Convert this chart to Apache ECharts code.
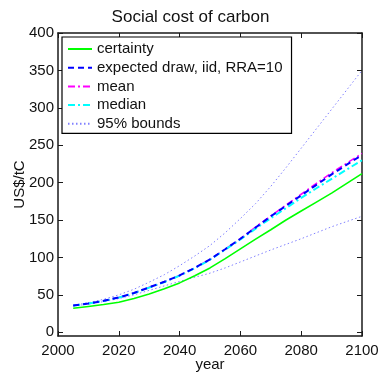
<!DOCTYPE html>
<html>
<head>
<meta charset="utf-8">
<script src="https://cdn.jsdelivr.net/npm/echarts@6/dist/echarts.min.js"></script>
<style>html,body{margin:0;padding:0;background:#fff}#c{width:381px;height:372px}</style>
</head>
<body>
<div id="c"></div>
<script>
var years     = [2005,2010,2015,2020,2025,2030,2035,2040,2045,2050,2055,2060,2065,2070,2075,2080,2085,2090,2095,2100];
var certainty = [32,34.5,37,40,45,51,58,66,75.5,86,98.5,111.5,124.5,137,150,162,174,186,199,212];
var expected  = [35.8,38.5,42,46.5,52.5,60,67.5,76,86,97.5,111,125,140,155,169,183,197,211,224,237];
var meanVals  = [35.8,38.5,42,46.5,52.5,60,67.5,76,86,97.5,111,125,140.5,155.5,170,184.5,199,213,226,239];
var medianVals= [35.6,38.3,41.8,46.3,52.3,59.7,67.2,75.6,85.6,97,110.5,124,138.5,152.5,166,179.5,192.5,205,217.5,230];
var upper     = [36,39.5,44,50,57.5,67,77,89,102,116,133,152,172,195,220,246,272,298,324,350];
var lower     = [35,37.5,41,45,50,56,62,68,73.5,79,86,94,102,110,117.5,125,133,141,148,155];
var xTicks = [2000,2020,2040,2060,2080,2100];
var yTicks = [0,50,100,150,200,250,300,350,400];

function pairs(v){ return years.map(function(y,i){ return [y, v[i]]; }); }

var FONT = 'Liberation Sans';
var chart = echarts.init(document.getElementById('c'), null, {renderer:'canvas'});
var axisLineStyle = {color:'#1a1a1a', width:1.5};
function xAx(pos, labels){
  return {type:'value', position:pos, min:2000, max:2100, interval:20,
    axisLine:{show:true, onZero:false, lineStyle:axisLineStyle},
    axisTick:{show:true, inside:true, length:5, lineStyle:{color:'#1a1a1a', width:1}},
    axisLabel:{show:labels, fontFamily:FONT, fontSize:15, color:'#111', margin:7,
      formatter:function(v){ return String(v); }},
    splitLine:{show:false},
    name: labels ? 'year' : '', nameLocation:'middle', nameGap:21, nameMoveOverlap:false,
    nameTextStyle:{fontFamily:FONT, fontSize:15, color:'#111', verticalAlign:'top', lineHeight:15}};
}
function yAx(pos, labels){
  return {type:'value', position:pos, min:-5, max:400,
    axisLine:{show:true, onZero:false, lineStyle:axisLineStyle},
    axisTick:{show:true, inside:true, length:5, customValues:yTicks, lineStyle:{color:'#1a1a1a', width:1}},
    axisLabel:{show:labels, customValues:yTicks, fontFamily:FONT, fontSize:15, color:'#111', margin:4},
    splitLine:{show:false},
    name: labels ? 'US$/tC' : '', nameLocation:'middle', nameGap:31, nameMoveOverlap:false,
    nameTextStyle:{fontFamily:FONT, fontSize:15, color:'#111'}};
}
function ser(name, data, color, width, type, z){
  return {name:name, type:'line', data:pairs(data), showSymbol:false, symbol:'none',
    xAxisIndex:0, yAxisIndex:0, z:z, animation:false,
    lineStyle:{color:color, width:width, type:type}, itemStyle:{color:color}};
}
var option = {
  animation:false,
  title:{text:'Social cost of carbon', left:'center', top:4,
    textStyle:{fontFamily:FONT, fontSize:17, fontWeight:'normal', color:'#111'}},
  grid:{left:58, right:19, top:33, bottom:36, outerBoundsMode:'none', containLabel:false},
  xAxis:[xAx('bottom', true), xAx('top', false)],
  yAxis:[yAx('left', true), yAx('right', false)],
  legend:{orient:'vertical', left:62, top:37, padding:[4.5,9,2,5], itemGap:3.7,
    itemWidth:24, itemHeight:10, backgroundColor:'#fff', borderColor:'#000', borderWidth:1.2,
    borderRadius:0, selectedMode:false,
    itemStyle:{opacity:0, borderWidth:0},
    textStyle:{fontFamily:FONT, fontSize:15, color:'#111', lineHeight:15},
    data:['certainty','expected draw, iid, RRA=10','mean','median','95% bounds']},
  series:[
    ser('95% bounds', upper, '#8080ff', 1, [1.5,2.5], 2),
    ser('95% bounds', lower, '#8080ff', 1, [1.5,2.5], 2),
    ser('certainty', certainty, '#00ff00', 1.6, 'solid', 3),
    ser('mean', meanVals, '#ff00ff', 1.6, [7,3,2,3], 4),
    ser('median', medianVals, '#00ffff', 2, [7,3,2,3], 5),
    ser('expected draw, iid, RRA=10', expected, '#0000ff', 2, [6,4], 6)
  ]
};
chart.setOption(option);
</script>
</body>
</html>
